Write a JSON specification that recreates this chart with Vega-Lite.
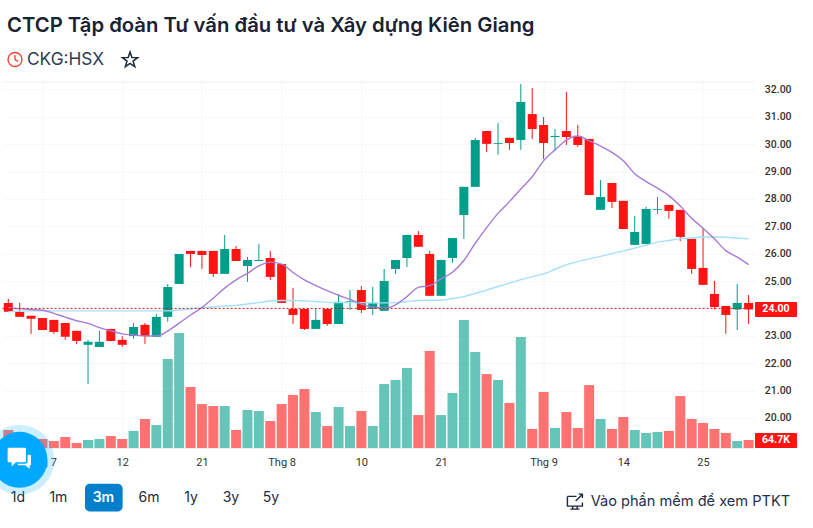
{"$schema":"https://vega.github.io/schema/vega-lite/v6.json","width":751.7,"height":366,"autosize":{"type":"none"},"padding":{"left":2.6,"top":82,"right":58.7,"bottom":80},"background":"#ffffff","config":{"view":{"stroke":null},"font":"Inter"},
"title":{"text":"CTCP Tập đoàn Tư vấn đầu tư và Xây dựng Kiên Giang","anchor":"start","frame":"group","dx":4.4,"offset":13,"font":"Inter","fontSize":20.3,"fontWeight":600,"color":"#1a2233"},
"datasets":{"one":[{"k":1}],"d":[
{"i":0,"o":24.2,"h":24.35,"l":23.88,"c":23.88,"v":146,"m1":24.03,"m2":23.87,"d":"down"},
{"i":1,"o":23.87,"h":24.2,"l":23.69,"c":23.69,"v":65,"m1":23.99,"m2":23.9,"d":"down"},
{"i":2,"o":23.73,"h":23.73,"l":23.07,"c":23.62,"v":57,"m1":23.96,"m2":23.91,"d":"down"},
{"i":3,"o":23.65,"h":23.65,"l":23.21,"c":23.21,"v":73,"m1":23.93,"m2":23.91,"d":"down"},
{"i":4,"o":23.58,"h":23.58,"l":23.07,"c":23.14,"v":57,"m1":23.82,"m2":23.91,"d":"down"},
{"i":5,"o":23.47,"h":23.47,"l":22.85,"c":22.96,"v":89,"m1":23.68,"m2":23.91,"d":"down"},
{"i":6,"o":23.18,"h":23.18,"l":22.7,"c":22.81,"v":41,"m1":23.55,"m2":23.91,"d":"down"},
{"i":7,"o":22.67,"h":22.85,"l":21.24,"c":22.78,"v":65,"m1":23.45,"m2":23.91,"d":"up"},
{"i":8,"o":22.59,"h":23.18,"l":22.59,"c":22.78,"v":73,"m1":23.3,"m2":23.91,"d":"up"},
{"i":9,"o":23.25,"h":23.25,"l":22.81,"c":22.81,"v":97,"m1":23.18,"m2":23.91,"d":"down"},
{"i":10,"o":22.85,"h":22.99,"l":22.59,"c":22.67,"v":73,"m1":23.07,"m2":23.91,"d":"down"},
{"i":11,"o":22.99,"h":23.47,"l":22.89,"c":23.32,"v":138,"m1":23.03,"m2":23.91,"d":"up"},
{"i":12,"o":23.4,"h":23.47,"l":22.7,"c":22.99,"v":235,"m1":22.99,"m2":23.91,"d":"down"},
{"i":13,"o":22.96,"h":23.8,"l":22.96,"c":23.69,"v":186,"m1":22.99,"m2":23.91,"d":"up"},
{"i":14,"o":23.69,"h":24.89,"l":23.51,"c":24.78,"v":721,"m1":23.17,"m2":23.91,"d":"up"},
{"i":15,"o":24.89,"h":25.99,"l":24.89,"c":25.99,"v":932,"m1":23.46,"m2":23.94,"d":"up"},
{"i":16,"o":26.1,"h":26.1,"l":25.51,"c":25.99,"v":494,"m1":23.76,"m2":23.98,"d":"down"},
{"i":17,"o":26.1,"h":26.1,"l":25.44,"c":25.95,"v":356,"m1":24.03,"m2":24.02,"d":"down"},
{"i":18,"o":26.1,"h":26.1,"l":25.15,"c":25.26,"v":340,"m1":24.37,"m2":24.05,"d":"down"},
{"i":19,"o":25.26,"h":26.68,"l":25.26,"c":26.17,"v":340,"m1":24.74,"m2":24.09,"d":"up"},
{"i":20,"o":26.17,"h":26.28,"l":25.73,"c":25.73,"v":146,"m1":25.04,"m2":24.11,"d":"down"},
{"i":21,"o":25.55,"h":25.88,"l":24.97,"c":25.77,"v":308,"m1":25.28,"m2":24.16,"d":"up"},
{"i":22,"o":25.73,"h":26.35,"l":25.73,"c":25.77,"v":300,"m1":25.55,"m2":24.21,"d":"up"},
{"i":23,"o":25.84,"h":26.1,"l":25.04,"c":25.15,"v":219,"m1":25.69,"m2":24.27,"d":"down"},
{"i":24,"o":25.62,"h":25.62,"l":24.2,"c":24.2,"v":356,"m1":25.62,"m2":24.29,"d":"down"},
{"i":25,"o":23.98,"h":24.75,"l":23.43,"c":23.76,"v":429,"m1":25.31,"m2":24.29,"d":"down"},
{"i":26,"o":23.98,"h":23.98,"l":23.21,"c":23.25,"v":478,"m1":25.04,"m2":24.27,"d":"down"},
{"i":27,"o":23.25,"h":23.98,"l":23.25,"c":23.58,"v":292,"m1":24.83,"m2":24.25,"d":"up"},
{"i":28,"o":23.98,"h":23.98,"l":23.36,"c":23.43,"v":178,"m1":24.65,"m2":24.22,"d":"down"},
{"i":29,"o":23.43,"h":24.53,"l":23.43,"c":24.24,"v":332,"m1":24.48,"m2":24.21,"d":"up"},
{"i":30,"o":24.25,"h":24.67,"l":23.94,"c":24.27,"v":178,"m1":24.33,"m2":24.21,"d":"up"},
{"i":31,"o":24.67,"h":24.82,"l":23.83,"c":23.94,"v":300,"m1":24.16,"m2":24.21,"d":"down"},
{"i":32,"o":23.98,"h":24.78,"l":23.76,"c":24.19,"v":178,"m1":24.04,"m2":24.2,"d":"up"},
{"i":33,"o":23.91,"h":25.44,"l":23.91,"c":25.0,"v":518,"m1":24.01,"m2":24.2,"d":"up"},
{"i":34,"o":25.44,"h":25.77,"l":25.26,"c":25.77,"v":551,"m1":24.13,"m2":24.21,"d":"up"},
{"i":35,"o":25.84,"h":26.68,"l":25.51,"c":26.68,"v":648,"m1":24.43,"m2":24.25,"d":"up"},
{"i":36,"o":26.68,"h":26.83,"l":26.25,"c":26.25,"v":267,"m1":24.77,"m2":24.29,"d":"down"},
{"i":37,"o":25.99,"h":26.1,"l":24.46,"c":24.46,"v":786,"m1":24.83,"m2":24.3,"d":"down"},
{"i":38,"o":24.46,"h":25.77,"l":24.46,"c":25.77,"v":267,"m1":25.08,"m2":24.3,"d":"up"},
{"i":39,"o":25.84,"h":26.57,"l":25.66,"c":26.57,"v":446,"m1":25.32,"m2":24.36,"d":"up"},
{"i":40,"o":27.41,"h":28.44,"l":26.54,"c":28.44,"v":1037,"m1":25.75,"m2":24.43,"d":"up"},
{"i":41,"o":28.44,"h":30.23,"l":28.44,"c":30.15,"v":778,"m1":26.38,"m2":24.55,"d":"up"},
{"i":42,"o":30.48,"h":30.48,"l":29.71,"c":30.01,"v":599,"m1":26.95,"m2":24.67,"d":"down"},
{"i":43,"o":30.01,"h":30.77,"l":29.61,"c":30.04,"v":551,"m1":27.47,"m2":24.8,"d":"up"},
{"i":44,"o":30.23,"h":30.23,"l":29.79,"c":30.04,"v":365,"m1":27.9,"m2":24.92,"d":"down"},
{"i":45,"o":30.15,"h":32.2,"l":29.79,"c":31.54,"v":899,"m1":28.36,"m2":25.05,"d":"up"},
{"i":46,"o":31.1,"h":32.05,"l":30.19,"c":30.55,"v":154,"m1":28.81,"m2":25.16,"d":"down"},
{"i":47,"o":30.7,"h":30.99,"l":29.46,"c":30.04,"v":454,"m1":29.39,"m2":25.26,"d":"down"},
{"i":48,"o":30.26,"h":30.55,"l":29.75,"c":30.3,"v":162,"m1":29.79,"m2":25.43,"d":"up"},
{"i":49,"o":30.48,"h":31.91,"l":29.97,"c":30.26,"v":292,"m1":30.15,"m2":25.59,"d":"down"},
{"i":50,"o":30.3,"h":30.7,"l":29.9,"c":29.97,"v":162,"m1":30.3,"m2":25.71,"d":"down"},
{"i":51,"o":30.19,"h":30.19,"l":28.14,"c":28.14,"v":510,"m1":30.12,"m2":25.81,"d":"down"},
{"i":52,"o":27.6,"h":28.69,"l":27.6,"c":28.07,"v":235,"m1":29.93,"m2":25.9,"d":"up"},
{"i":53,"o":28.58,"h":28.58,"l":27.67,"c":27.89,"v":154,"m1":29.7,"m2":26.0,"d":"down"},
{"i":54,"o":27.93,"h":27.93,"l":26.9,"c":26.9,"v":251,"m1":29.39,"m2":26.1,"d":"down"},
{"i":55,"o":26.32,"h":27.38,"l":26.32,"c":26.79,"v":146,"m1":28.92,"m2":26.2,"d":"up"},
{"i":56,"o":26.35,"h":27.71,"l":26.35,"c":27.63,"v":122,"m1":28.63,"m2":26.31,"d":"up"},
{"i":57,"o":27.6,"h":28.07,"l":27.45,"c":27.63,"v":130,"m1":28.39,"m2":26.42,"d":"up"},
{"i":58,"o":27.78,"h":27.78,"l":27.27,"c":27.56,"v":138,"m1":28.12,"m2":26.48,"d":"down"},
{"i":59,"o":27.6,"h":27.6,"l":26.46,"c":26.61,"v":421,"m1":27.74,"m2":26.55,"d":"down"},
{"i":60,"o":26.54,"h":26.54,"l":25.26,"c":25.44,"v":235,"m1":27.29,"m2":26.57,"d":"down"},
{"i":61,"o":25.48,"h":26.94,"l":24.86,"c":24.86,"v":203,"m1":26.93,"m2":26.61,"d":"down"},
{"i":62,"o":24.53,"h":25.0,"l":23.96,"c":24.05,"v":154,"m1":26.54,"m2":26.61,"d":"down"},
{"i":63,"o":24.09,"h":24.09,"l":23.07,"c":23.76,"v":122,"m1":26.11,"m2":26.6,"d":"down"},
{"i":64,"o":23.96,"h":24.89,"l":23.21,"c":24.2,"v":57,"m1":25.87,"m2":26.57,"d":"up"},
{"i":65,"o":24.2,"h":24.49,"l":23.43,"c":23.96,"v":64.7,"m1":25.6,"m2":26.54,"d":"down"}
]},
"data":{"name":"d"},
"layer":[
{"mark":{"type":"bar","size":10,"orient":"vertical","opacity":0.6},"encoding":{"x":{"field":"i","type":"quantitative","title":null,"scale":{"domain":[-0.5,65.5],"nice":false,"zero":false,"padding":0},"axis":{"values":[3,10,17,24,31,38,47,54,61],"labelExpr":"{'3':'Thg 7','10':'12','17':'21','24':'Thg 8','31':'10','38':'21','47':'Thg 9','54':'14','61':'25'}[datum.value]","grid":true,"gridColor":"#f0f1f5","gridDash":[2,2],"ticks":false,"domainColor":"#eeeeee","labelPadding":8,"labelFont":"Roboto","labelFontSize":11,"labelColor":"#333333","labelAngle":0,"labelOverlap":false,"labelFlush":false}},"y":{"field":"v","type":"quantitative","title":null,"axis":null,"scale":{"domain":[0,2965],"nice":false,"zero":false}},"color":{"field":"d","type":"nominal","legend":null,"scale":{"domain":["up","down"],"range":["#009E8A","#FF1414"]}}}},
{"mark":{"type":"rule","strokeWidth":1},"encoding":{"x":{"field":"i","type":"quantitative"},"y":{"field":"l","type":"quantitative","title":null,"scale":{"domain":[18.9,32.27],"nice":false,"zero":false},"axis":{"orient":"right","values":[20,21,22,23,25,26,27,28,29,30,31,32],"format":".2f","grid":true,"gridColor":"#f0f1f5","gridDash":[2,2],"ticks":false,"domain":false,"labelPadding":10,"labelFont":"Roboto","labelFontSize":10.5,"labelFontWeight":500,"labelColor":"#333333","labelOverlap":false}},"y2":{"field":"h"},"color":{"field":"d","type":"nominal","legend":null}}},
{"mark":{"type":"bar","size":9},"encoding":{"x":{"field":"i","type":"quantitative"},"y":{"field":"o","type":"quantitative","title":null,"axis":null,"scale":{"domain":[18.9,32.27],"nice":false,"zero":false}},"y2":{"field":"c"},"color":{"field":"d","type":"nominal","legend":null}}},
{"mark":{"type":"line","stroke":"#A5DFFB","strokeWidth":1.4,"interpolate":"monotone"},"encoding":{"x":{"field":"i","type":"quantitative"},"y":{"field":"m2","type":"quantitative","title":null,"axis":null,"scale":{"domain":[18.9,32.27],"nice":false,"zero":false}}}},
{"mark":{"type":"line","stroke":"#A77BD8","strokeWidth":1.4,"interpolate":"monotone"},"encoding":{"x":{"field":"i","type":"quantitative"},"y":{"field":"m1","type":"quantitative","title":null,"axis":null,"scale":{"domain":[18.9,32.27],"nice":false,"zero":false}}}},
{"data":{"name":"one"},"mark":{"type":"rule","stroke":"#eeeeee","strokeWidth":1},"encoding":{"x":{"datum":-0.5,"type":"quantitative"},"x2":{"datum":65.5},"y":{"datum":32.27,"type":"quantitative","title":null,"axis":null,"scale":{"domain":[18.9,32.27],"nice":false,"zero":false}}}},
{"data":{"name":"one"},"mark":{"type":"rule","stroke":"#D81414","strokeWidth":1,"strokeDash":[2,2]},"encoding":{"x":{"datum":-0.5,"type":"quantitative"},"x2":{"datum":65.5},"y":{"datum":24,"type":"quantitative","title":null,"axis":null,"scale":{"domain":[18.9,32.27],"nice":false,"zero":false}}}},
{"data":{"name":"one"},"mark":{"type":"rect","fill":"#FF1414","cornerRadius":1},"encoding":{"x":{"datum":65.56,"type":"quantitative"},"x2":{"datum":69.25},"y":{"datum":24.23,"type":"quantitative","title":null,"axis":null,"scale":{"domain":[18.9,32.27],"nice":false,"zero":false}},"y2":{"datum":23.69}}},
{"data":{"name":"one"},"mark":{"type":"rect","fill":"#FF1414","cornerRadius":1},"encoding":{"x":{"datum":65.56,"type":"quantitative"},"x2":{"datum":69.25},"y":{"datum":19.45,"type":"quantitative","title":null,"axis":null,"scale":{"domain":[18.9,32.27],"nice":false,"zero":false}},"y2":{"datum":18.9}}},
{"data":{"name":"one"},"mark":{"type":"text","font":"Roboto","fontSize":10.5,"fontWeight":700,"fill":"#ffffff","align":"center","baseline":"middle"},"encoding":{"x":{"datum":67.4,"type":"quantitative"},"y":{"datum":23.96,"type":"quantitative","title":null,"axis":null,"scale":{"domain":[18.9,32.27],"nice":false,"zero":false}},"text":{"value":"24.00"}}},
{"data":{"name":"one"},"mark":{"type":"text","font":"Roboto","fontSize":10.5,"fontWeight":700,"fill":"#ffffff","align":"center","baseline":"middle"},"encoding":{"x":{"datum":67.4,"type":"quantitative"},"y":{"datum":19.18,"type":"quantitative","title":null,"axis":null,"scale":{"domain":[18.9,32.27],"nice":false,"zero":false}},"text":{"value":"64.7K"}}},
{"data":{"name":"one"},"mark":{"type":"point","filled":false,"stroke":"#F0443A","strokeWidth":1.4,"shape":"M -1 0 A 1 1 0 1 1 1 0 A 1 1 0 1 1 -1 0 M 0 -0.6 L 0 0 L 0.45 0.25","size":196,"opacity":1},"encoding":{"x":{"datum":0.59,"type":"quantitative"},"y":{"datum":33.09,"type":"quantitative","title":null,"axis":null,"scale":{"domain":[18.9,32.27],"nice":false,"zero":false}}}},
{"data":{"name":"one"},"mark":{"type":"text","font":"Inter","fontSize":17.3,"fill":"#2f3b52","align":"left","baseline":"middle"},"encoding":{"x":{"datum":1.64,"type":"quantitative"},"y":{"datum":33.07,"type":"quantitative","title":null,"axis":null,"scale":{"domain":[18.9,32.27],"nice":false,"zero":false}},"text":{"value":"CKG:HSX"}}},
{"data":{"name":"one"},"mark":{"type":"point","filled":false,"stroke":"#1e2a3e","strokeWidth":1.5,"opacity":1,"size":256,"shape":"M0,-1 L0.235,-0.32 L0.95,-0.31 L0.38,0.12 L0.59,0.81 L0,0.4 L-0.59,0.81 L-0.38,0.12 L-0.95,-0.31 L-0.235,-0.32 Z"},"encoding":{"x":{"datum":10.69,"type":"quantitative"},"y":{"datum":33.07,"type":"quantitative","title":null,"axis":null,"scale":{"domain":[18.9,32.27],"nice":false,"zero":false}}}},
{"data":{"name":"one"},"mark":{"type":"rect","fill":"#0080CC","cornerRadius":5},"encoding":{"x":{"datum":6.73,"type":"quantitative"},"x2":{"datum":10.04},"y":{"datum":17.59,"type":"quantitative","title":null,"axis":null,"scale":{"domain":[18.9,32.27],"nice":false,"zero":false}},"y2":{"datum":16.58}}},
{"data":{"name":"one"},"mark":{"type":"text","font":"Inter","fontSize":14,"fill":"#1e2a3e","align":"center","baseline":"middle"},"encoding":{"x":{"datum":0.85,"type":"quantitative"},"y":{"datum":17.08,"type":"quantitative","title":null,"axis":null,"scale":{"domain":[18.9,32.27],"nice":false,"zero":false}},"text":{"value":"1d"}}},
{"data":{"name":"one"},"mark":{"type":"text","font":"Inter","fontSize":14,"fill":"#1e2a3e","align":"center","baseline":"middle"},"encoding":{"x":{"datum":4.4,"type":"quantitative"},"y":{"datum":17.08,"type":"quantitative","title":null,"axis":null,"scale":{"domain":[18.9,32.27],"nice":false,"zero":false}},"text":{"value":"1m"}}},
{"data":{"name":"one"},"mark":{"type":"text","font":"Inter","fontSize":14,"fontWeight":600,"fill":"#ffffff","align":"center","baseline":"middle"},"encoding":{"x":{"datum":8.35,"type":"quantitative"},"y":{"datum":17.08,"type":"quantitative","title":null,"axis":null,"scale":{"domain":[18.9,32.27],"nice":false,"zero":false}},"text":{"value":"3m"}}},
{"data":{"name":"one"},"mark":{"type":"text","font":"Inter","fontSize":14,"fill":"#1e2a3e","align":"center","baseline":"middle"},"encoding":{"x":{"datum":12.35,"type":"quantitative"},"y":{"datum":17.08,"type":"quantitative","title":null,"axis":null,"scale":{"domain":[18.9,32.27],"nice":false,"zero":false}},"text":{"value":"6m"}}},
{"data":{"name":"one"},"mark":{"type":"text","font":"Inter","fontSize":14,"fill":"#1e2a3e","align":"center","baseline":"middle"},"encoding":{"x":{"datum":16.04,"type":"quantitative"},"y":{"datum":17.08,"type":"quantitative","title":null,"axis":null,"scale":{"domain":[18.9,32.27],"nice":false,"zero":false}},"text":{"value":"1y"}}},
{"data":{"name":"one"},"mark":{"type":"text","font":"Inter","fontSize":14,"fill":"#1e2a3e","align":"center","baseline":"middle"},"encoding":{"x":{"datum":19.55,"type":"quantitative"},"y":{"datum":17.08,"type":"quantitative","title":null,"axis":null,"scale":{"domain":[18.9,32.27],"nice":false,"zero":false}},"text":{"value":"3y"}}},
{"data":{"name":"one"},"mark":{"type":"text","font":"Inter","fontSize":14,"fill":"#1e2a3e","align":"center","baseline":"middle"},"encoding":{"x":{"datum":23.06,"type":"quantitative"},"y":{"datum":17.08,"type":"quantitative","title":null,"axis":null,"scale":{"domain":[18.9,32.27],"nice":false,"zero":false}},"text":{"value":"5y"}}},
{"data":{"name":"one"},"mark":{"type":"point","filled":false,"stroke":"#1e2a3e","strokeWidth":1.4,"opacity":1,"size":225,"shape":"M-1,-0.7 L0.2,-0.7 M1,0.1 L1,0.6 L-1,0.6 L-1,-0.7 M-0.3,0.6 L-0.3,1 M0.3,0.6 L0.3,1 M-0.6,1 L0.6,1 M0.1,-0.1 L1,-1 M0.5,-1 L1,-1 L1,-0.5"},"encoding":{"x":{"datum":49.75,"type":"quantitative"},"y":{"datum":16.94,"type":"quantitative","title":null,"axis":null,"scale":{"domain":[18.9,32.27],"nice":false,"zero":false}}}},
{"data":{"name":"one"},"mark":{"type":"text","font":"Inter","fontSize":14.6,"fill":"#25304a","align":"left","baseline":"middle"},"encoding":{"x":{"datum":51.13,"type":"quantitative"},"y":{"datum":16.93,"type":"quantitative","title":null,"axis":null,"scale":{"domain":[18.9,32.27],"nice":false,"zero":false}},"text":{"value":"Vào phần mềm để xem PTKT"}}},
{"data":{"name":"one"},"mark":{"type":"point","filled":true,"fill":"#00A8FF","opacity":0.2,"size":4900,"shape":"circle"},"encoding":{"x":{"datum":0.98,"type":"quantitative"},"y":{"datum":18.47,"type":"quantitative","title":null,"axis":null,"scale":{"domain":[18.9,32.27],"nice":false,"zero":false}}}},
{"data":{"name":"one"},"mark":{"type":"point","filled":true,"fill":"#00A8FF","opacity":1,"size":3136,"shape":"circle"},"encoding":{"x":{"datum":0.98,"type":"quantitative"},"y":{"datum":18.47,"type":"quantitative","title":null,"axis":null,"scale":{"domain":[18.9,32.27],"nice":false,"zero":false}}}},
{"data":{"name":"one"},"mark":{"type":"point","filled":true,"fill":"#ffffff","opacity":1,"size":625,"shape":"M-0.8,-0.85 L0.45,-0.85 Q0.55,-0.85 0.55,-0.75 L0.55,0.2 Q0.55,0.3 0.45,0.3 L-0.25,0.3 L-0.6,0.65 L-0.6,0.3 L-0.8,0.3 Q-0.92,0.3 -0.92,0.2 L-0.92,-0.75 Q-0.92,-0.85 -0.8,-0.85 Z M0.68,-0.3 L0.85,-0.3 Q0.95,-0.3 0.95,-0.2 L0.95,0.55 L0.85,0.55 L0.85,0.85 L0.5,0.55 L-0.05,0.55 L-0.15,0.42 L0.45,0.42 Q0.68,0.42 0.68,0.2 Z"},"encoding":{"x":{"datum":0.95,"type":"quantitative"},"y":{"datum":18.52,"type":"quantitative","title":null,"axis":null,"scale":{"domain":[18.9,32.27],"nice":false,"zero":false}}}}
],
"resolve":{"scale":{"y":"independent"}}}
